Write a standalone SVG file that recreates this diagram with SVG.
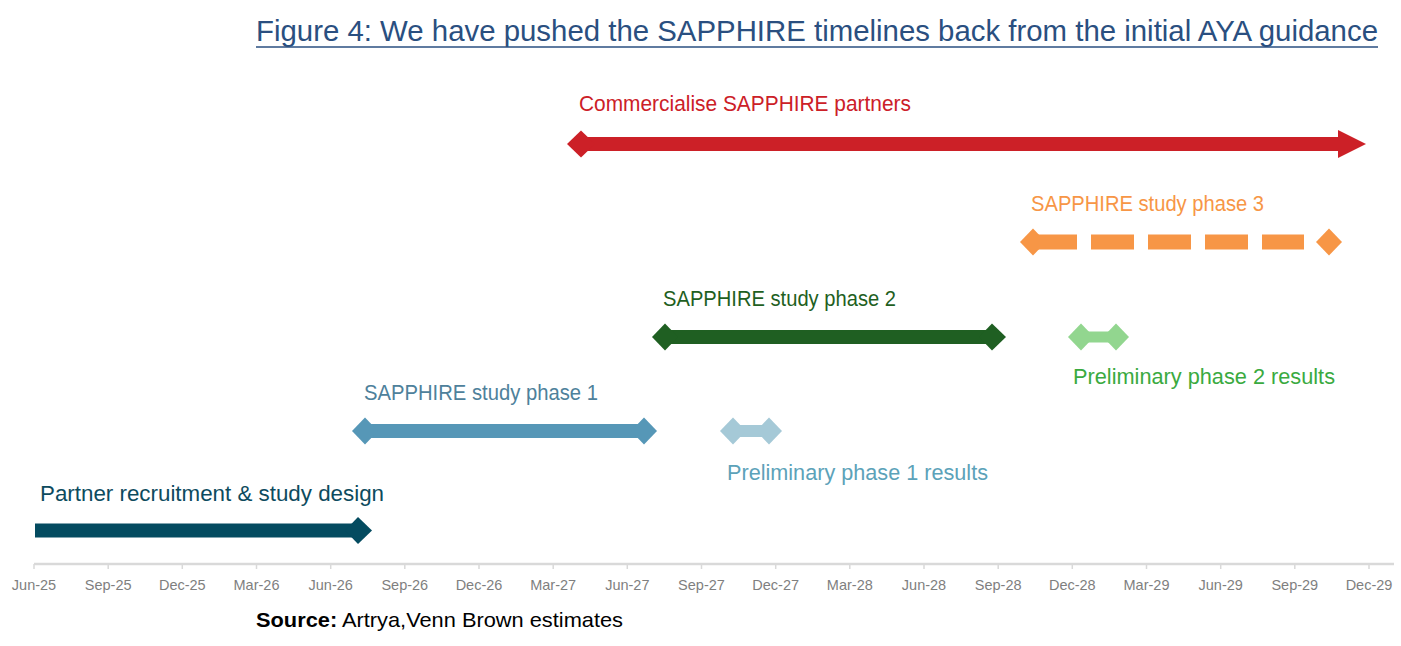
<svg xmlns="http://www.w3.org/2000/svg" width="1401" height="646" viewBox="0 0 1401 646">
<style>
text{font-family:"Liberation Sans",Arial,sans-serif}
.lbl{font-size:22px}
.ax{font-size:14.5px;fill:#7f7f7f;text-anchor:middle}
.tick{stroke:#d9d9d9;stroke-width:1.5}
</style>
<rect width="1401" height="646" fill="#ffffff"/>
<g id="title">
<text x="256" y="41" font-size="29" fill="#2a4f80" textLength="1122" lengthAdjust="spacingAndGlyphs">Figure 4: We have pushed the SAPPHIRE timelines back from the initial AYA guidance</text>
<line x1="256" y1="47" x2="1378" y2="47" stroke="#2a4f80" stroke-width="1.6"/>
</g>
<g id="connectors">
<g id="bar-commercialise" fill="#cc2027">
<rect x="581" y="137" width="758" height="14"/>
<polygon points="567,144 581,130.5 595,144 581,157.5"/>
<polygon points="1338,130 1366,144 1338,158"/>
</g>
<g id="bar-phase3" fill="#f79646">
<polygon points="1020,242 1033,228.5 1046,242 1033,255.5"/>
<rect x="1033" y="234.5" width="44" height="15"/>
<rect x="1091" y="234.5" width="43" height="15"/>
<rect x="1148" y="234.5" width="43" height="15"/>
<rect x="1205" y="234.5" width="43" height="15"/>
<rect x="1262" y="234.5" width="42" height="15"/>
<polygon points="1316,242 1329,228.5 1342,242 1329,255.5"/>
</g>
<g id="bar-phase2" fill="#1f5f22">
<rect x="665" y="330" width="327" height="14"/>
<polygon points="652,337 665,323.5 678,337 665,350.5"/>
<polygon points="979,337 992,323.5 1006,337 992,350.5"/>
</g>
<g id="bar-prelim2" fill="#92d68f">
<rect x="1081" y="331.5" width="36" height="11"/>
<polygon points="1068,337 1081,323.5 1094,337 1081,350.5"/>
<polygon points="1103,337 1116,323.5 1129,337 1116,350.5"/>
</g>
<g id="bar-phase1" fill="#5697b7">
<rect x="365" y="424" width="279" height="14"/>
<polygon points="352,431 365,417.5 378,431 365,444.5"/>
<polygon points="631,431 644,417.5 657,431 644,444.5"/>
</g>
<g id="bar-prelim1" fill="#a5c9d7">
<rect x="733" y="425" width="36" height="12"/>
<polygon points="720,431 733,417.5 746,431 733,444.5"/>
<polygon points="756,431 769,417.5 782,431 769,444.5"/>
</g>
<g id="bar-partner" fill="#044b60">
<rect x="35" y="523.5" width="324" height="14"/>
<polygon points="345,530.5 358,517 372,530.5 358,544"/>
</g>
</g>
<g id="node-commercialise"><text class="lbl" x="579" y="111" fill="#cc2027" textLength="332" lengthAdjust="spacingAndGlyphs">Commercialise SAPPHIRE partners</text></g>
<g id="node-phase3"><text class="lbl" x="1031" y="211" fill="#f79646" textLength="233" lengthAdjust="spacingAndGlyphs">SAPPHIRE study phase 3</text></g>
<g id="node-phase2"><text class="lbl" x="663" y="306" fill="#1f5f22" textLength="233" lengthAdjust="spacingAndGlyphs">SAPPHIRE study phase 2</text></g>
<g id="node-prelim2"><text class="lbl" x="1073" y="384" fill="#3aaa3f" textLength="262" lengthAdjust="spacingAndGlyphs">Preliminary phase 2 results</text></g>
<g id="node-phase1"><text class="lbl" x="364" y="400" fill="#4e819b" textLength="234" lengthAdjust="spacingAndGlyphs">SAPPHIRE study phase 1</text></g>
<g id="node-prelim1"><text class="lbl" x="727" y="480" fill="#5ca2b9" textLength="261" lengthAdjust="spacingAndGlyphs">Preliminary phase 1 results</text></g>
<g id="node-partner"><text class="lbl" x="40" y="501" fill="#0d4b5e" textLength="344" lengthAdjust="spacingAndGlyphs">Partner recruitment &amp; study design</text></g>
<g id="axis">
<line x1="34" y1="564" x2="1394" y2="564" stroke="#d9d9d9" stroke-width="2.5"/>
<g class="tick">
<line x1="34" y1="564" x2="34" y2="569"/><line x1="108.2" y1="564" x2="108.2" y2="569"/><line x1="182.3" y1="564" x2="182.3" y2="569"/><line x1="256.5" y1="564" x2="256.5" y2="569"/><line x1="330.7" y1="564" x2="330.7" y2="569"/><line x1="404.8" y1="564" x2="404.8" y2="569"/><line x1="479" y1="564" x2="479" y2="569"/><line x1="553.2" y1="564" x2="553.2" y2="569"/><line x1="627.3" y1="564" x2="627.3" y2="569"/><line x1="701.5" y1="564" x2="701.5" y2="569"/><line x1="775.7" y1="564" x2="775.7" y2="569"/><line x1="849.8" y1="564" x2="849.8" y2="569"/><line x1="924" y1="564" x2="924" y2="569"/><line x1="998.2" y1="564" x2="998.2" y2="569"/><line x1="1072.3" y1="564" x2="1072.3" y2="569"/><line x1="1146.5" y1="564" x2="1146.5" y2="569"/><line x1="1220.7" y1="564" x2="1220.7" y2="569"/><line x1="1294.8" y1="564" x2="1294.8" y2="569"/><line x1="1369" y1="564" x2="1369" y2="569"/>
</g>
<text class="ax" x="34" y="590">Jun-25</text><text class="ax" x="108.2" y="590">Sep-25</text><text class="ax" x="182.3" y="590">Dec-25</text><text class="ax" x="256.5" y="590">Mar-26</text><text class="ax" x="330.7" y="590">Jun-26</text><text class="ax" x="404.8" y="590">Sep-26</text><text class="ax" x="479" y="590">Dec-26</text><text class="ax" x="553.2" y="590">Mar-27</text><text class="ax" x="627.3" y="590">Jun-27</text><text class="ax" x="701.5" y="590">Sep-27</text><text class="ax" x="775.7" y="590">Dec-27</text><text class="ax" x="849.8" y="590">Mar-28</text><text class="ax" x="924" y="590">Jun-28</text><text class="ax" x="998.2" y="590">Sep-28</text><text class="ax" x="1072.3" y="590">Dec-28</text><text class="ax" x="1146.5" y="590">Mar-29</text><text class="ax" x="1220.7" y="590">Jun-29</text><text class="ax" x="1294.8" y="590">Sep-29</text><text class="ax" x="1369" y="590">Dec-29</text>
</g>
<g id="source">
<text x="256" y="627" font-size="21" fill="#000000" textLength="367" lengthAdjust="spacingAndGlyphs"><tspan font-weight="bold">Source:</tspan> Artrya,Venn Brown estimates</text>
</g>
</svg>
